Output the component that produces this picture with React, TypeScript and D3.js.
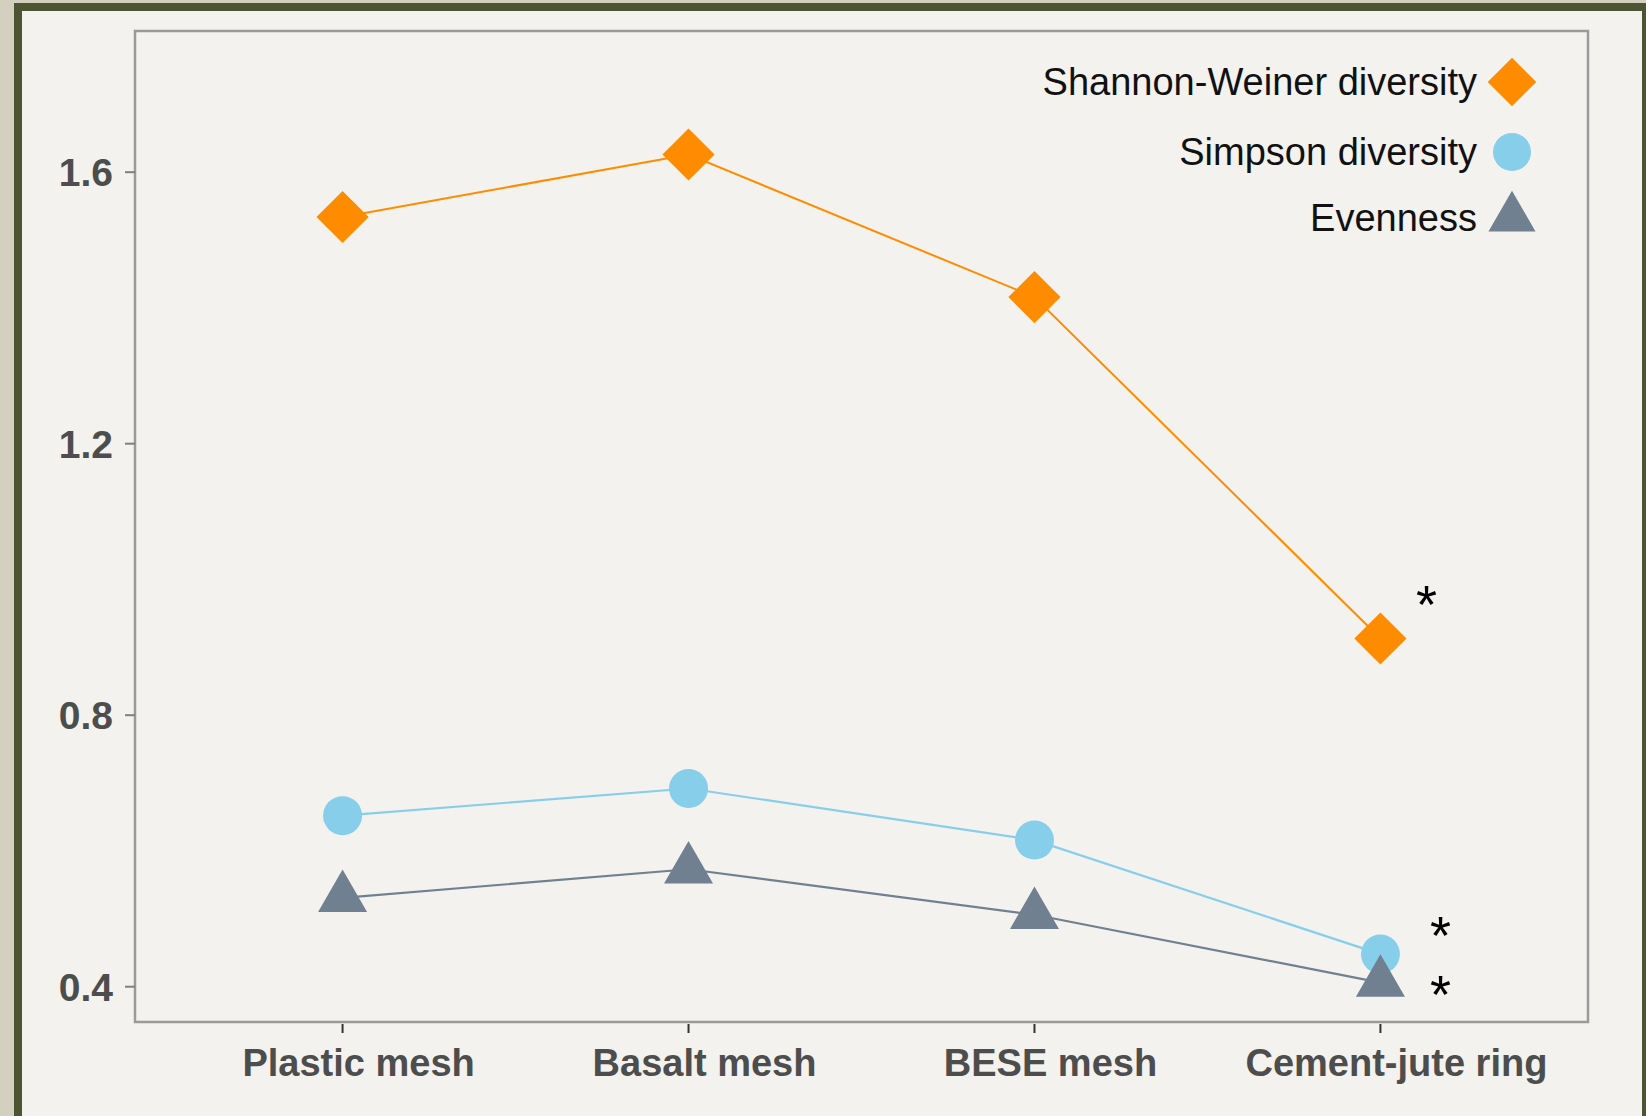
import React from "react";
import * as d3 from "d3";

const categories = ["Plastic mesh", "Basalt mesh", "BESE mesh", "Cement-jute ring"];
const shannon = [1.534, 1.626, 1.416, 0.913];
const simpson = [0.652, 0.692, 0.616, 0.448];
const evenness = [0.531, 0.573, 0.506, 0.406];
const yTicks = [0.4, 0.8, 1.2, 1.6];
const legendLabels = ["Shannon-Weiner diversity", "Simpson diversity", "Evenness"];
const significant = [false, false, false, true];

const W = 1646;
const H = 1116;
const plot = { left: 135, right: 1588, top: 31, bottom: 1022 };

const ORANGE = "#ff8c00";
const SKY = "#87ceeb";
const SLATE = "#708090";

export default function App() {
  const x = d3.scalePoint<string>().domain(categories).range([plot.left, plot.right]).padding(0.6);
  const y = d3.scaleLinear().domain([0.348, 1.808]).range([plot.bottom, plot.top]);

  const line = d3
    .line<number>()
    .x((_, i) => x(categories[i]) as number)
    .y((d) => y(d));

  const sq = d3.symbol().type(d3.symbolSquare).size(1360)() as string;
  const sqLegend = d3.symbol().type(d3.symbolSquare).size(1180)() as string;
  const tri = d3.symbol().type(d3.symbolTriangle).size(1040)() as string;
  const triLegend = d3.symbol().type(d3.symbolTriangle).size(960)() as string;

  const font = "'Liberation Sans', Arial, sans-serif";

  const legendX = 1512;
  const legendY = [82, 152, 218];

  return (
    <svg width={W} height={H} style={{ position: "absolute", left: 0, top: 0 }} xmlns="http://www.w3.org/2000/svg">
      {/* outer background and border */}
      <rect x={0} y={0} width={W} height={H} fill="#d4d0c0" />
      <rect x={14} y={3} width={W - 14} height={H - 3} fill="#4b5533" />
      <rect x={22} y={11} width={1642 - 22} height={H - 11} fill="#f3f2ee" />

      {/* plot frame */}
      <rect
        x={plot.left}
        y={plot.top}
        width={plot.right - plot.left}
        height={plot.bottom - plot.top}
        fill="none"
        stroke="#9a9a9a"
        strokeWidth={2.5}
      />

      {/* y ticks */}
      {yTicks.map((t) => (
        <g key={t}>
          <line x1={125} x2={plot.left} y1={y(t)} y2={y(t)} stroke="#7f7f7f" strokeWidth={2} />
          <text
            x={113}
            y={y(t)}
            dy="0.36em"
            textAnchor="end"
            fontFamily={font}
            fontWeight="bold"
            fontSize={39}
            fill="#4d4d4d"
          >
            {t.toFixed(1)}
          </text>
        </g>
      ))}

      {/* x ticks */}
      {categories.map((c) => (
        <g key={c}>
          <line x1={x(c)} x2={x(c)} y1={plot.bottom + 2} y2={plot.bottom + 11} stroke="#333" strokeWidth={2} />
          <text
            x={(x(c) as number) + 16}
            y={1076}
            textAnchor="middle"
            fontFamily={font}
            fontWeight="bold"
            fontSize={38}
            fill="#4d4d4d"
          >
            {c}
          </text>
        </g>
      ))}

      {/* lines */}
      <path d={line(shannon) as string} fill="none" stroke={ORANGE} strokeWidth={2} />
      <path d={line(simpson) as string} fill="none" stroke={SKY} strokeWidth={2.2} />
      <path d={line(evenness) as string} fill="none" stroke={SLATE} strokeWidth={2.2} />

      {/* markers */}
      {shannon.map((v, i) => (
        <path
          key={"s" + i}
          d={sq}
          transform={`translate(${x(categories[i])},${y(v)}) rotate(45)`}
          fill={ORANGE}
        />
      ))}
      {simpson.map((v, i) => (
        <circle key={"c" + i} cx={x(categories[i])} cy={y(v)} r={19.5} fill={SKY} />
      ))}
      {evenness.map((v, i) => (
        <path key={"t" + i} d={tri} transform={`translate(${x(categories[i])},${y(v)})`} fill={SLATE} />
      ))}

      {/* significance asterisks */}
      {categories.map((c, i) =>
        significant[i] ? (
          <g key={"a" + i} fontFamily={font} fontSize={54} fill="#000" textAnchor="middle">
            <text x={(x(c) as number) + 46} y={y(shannon[i]) - 45 + 30}>*</text>
            <text x={(x(c) as number) + 60} y={y(simpson[i]) - 30 + 30}>*</text>
            <text x={(x(c) as number) + 60} y={y(evenness[i]) + 0 + 30}>*</text>
          </g>
        ) : null
      )}

      {/* legend */}
      {legendLabels.map((l, i) => (
        <text
          key={l}
          x={1477}
          y={legendY[i] + 13}
          textAnchor="end"
          fontFamily={font}
          fontSize={38}
          fill="#111"
        >
          {l}
        </text>
      ))}
      <path d={sqLegend} transform={`translate(${legendX},${legendY[0]}) rotate(45)`} fill={ORANGE} />
      <circle cx={legendX} cy={legendY[1]} r={19} fill={SKY} />
      <path d={triLegend} transform={`translate(${legendX},${legendY[2]})`} fill={SLATE} />
    </svg>
  );
}
